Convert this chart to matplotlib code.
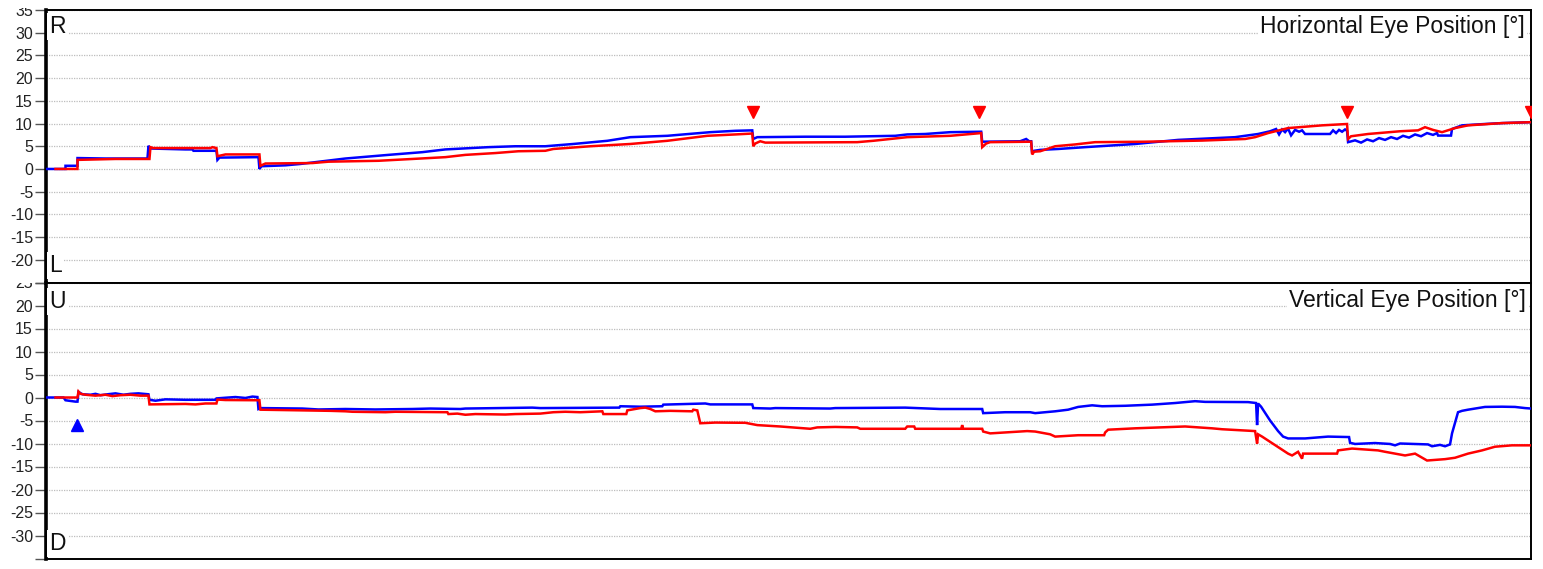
import matplotlib
matplotlib.use("Agg")
import matplotlib.pyplot as plt
from matplotlib.transforms import Bbox, TransformedBbox

plt.rcParams['font.family'] = ['Liberation Sans', 'DejaVu Sans']

# ---------------- data (time in samples, position in degrees) ----------------
h_blue_t = [0, 20, 20, 32, 32, 60, 102, 103, 105, 140, 147, 148, 171, 172, 174, 213, 214, 216, 240, 255,
            300, 343, 377, 400, 443, 470, 500, 528, 562, 585, 622, 665, 690, 707, 708, 712, 760, 800, 850,
            862, 880, 905, 936, 937, 975, 981, 984, 986, 987, 989, 995, 1013, 1040, 1090, 1133, 1190, 1213,
            1225, 1231, 1234, 1237, 1240, 1243, 1246, 1250, 1254, 1257, 1260, 1285, 1288, 1291, 1294, 1297,
            1300, 1302, 1303, 1310, 1316, 1322, 1328, 1334, 1340, 1346, 1352, 1358, 1364, 1370, 1376, 1382,
            1388, 1392, 1393, 1406, 1407, 1417, 1440, 1457, 1486]
h_blue_v = [0, 0, 0.7, 0.7, 2.4, 2.3, 2.3, 5.1, 4.5, 4.3, 4.3, 4.0, 4.0, 2.0, 2.5, 2.6, 0.0, 0.6, 0.8, 1.1,
            2.3, 3.1, 3.7, 4.3, 4.8, 5.0, 5.0, 5.5, 6.2, 7.0, 7.3, 8.1, 8.4, 8.5, 6.6, 7.0, 7.1, 7.1, 7.3,
            7.6, 7.7, 8.1, 8.2, 6.0, 6.1, 6.6, 6.1, 6.1, 3.4, 4.0, 4.2, 4.4, 4.8, 5.5, 6.4, 7.0, 7.7,
            8.3, 8.8, 7.6, 8.7, 8.1, 8.9, 7.4, 8.6, 8.2, 8.5, 7.7, 7.7, 8.5, 7.9, 8.6, 8.2,
            8.7, 8.4, 5.9, 6.3, 5.8, 6.5, 6.1, 6.8, 6.4, 7.0, 6.6, 7.3, 6.9, 7.6, 7.2, 7.9,
            7.5, 7.9, 7.35, 7.35, 8.8, 9.6, 9.9, 10.1, 10.3]

h_red_t = [10, 32, 32, 70, 104, 105, 108, 165, 167, 171, 172, 180, 214, 215, 220, 267, 283, 333, 367, 400,
           420, 450, 473, 500, 508, 545, 585, 622, 662, 690, 707, 708, 710, 715, 720, 812, 828, 862, 905,
           936, 937, 941, 945, 986, 987, 989, 995, 1002, 1010, 1030, 1050, 1100, 1157, 1200, 1210, 1223,
           1243, 1277, 1302, 1303, 1306, 1323, 1355, 1373, 1380, 1388, 1397, 1410, 1423, 1457, 1486]
h_red_v = [0, 0, 2.0, 2.2, 2.2, 4.8, 4.6, 4.6, 4.8, 4.6, 2.8, 3.2, 3.2, 0.7, 1.2, 1.3, 1.6, 1.8, 2.2, 2.6,
           3.1, 3.5, 3.9, 4.0, 4.4, 5.0, 5.5, 6.2, 7.3, 7.6, 7.8, 5.0, 5.6, 6.1, 5.8, 5.9, 6.2, 7.0, 7.3,
           7.9, 4.8, 5.6, 5.9, 6.0, 3.2, 3.8, 3.9, 4.4, 5.0, 5.4, 5.9, 6.0, 6.25, 6.6, 7.0, 7.9,
           9.0, 9.6, 9.9, 6.6, 7.2, 7.7, 8.3, 8.5, 9.2, 8.6, 8.1, 9.0, 9.6, 10.1, 10.3]

v_blue_t = [0, 18, 20, 30, 32, 33, 37, 45, 50, 55, 62, 70, 78, 85, 93, 103, 104, 110, 120, 140, 170, 171,
            180, 190, 200, 207, 212, 213, 215, 257, 273, 300, 330, 367, 385, 415, 420, 487, 495, 574, 575,
            595, 617, 618, 660, 665, 707, 708, 725, 730, 785, 790, 860, 895, 910, 937, 938, 960, 985, 990,
            1010, 1023, 1033, 1047, 1057, 1080, 1107, 1130, 1150, 1160, 1203, 1211, 1212, 1213, 1216,
            1225, 1233, 1238, 1243, 1260, 1283, 1304, 1305, 1310, 1330, 1345, 1350, 1355, 1383, 1387,
            1395, 1400, 1405, 1407, 1413, 1417, 1423, 1440, 1457, 1470, 1480, 1486]
v_blue_v = [0, 0, -0.6, -0.9, -0.9, 1.2, 0.7, 0.6, 0.8, 0.5, 0.7, 0.9, 0.6, 0.8, 0.9, 0.7, -0.5, -0.7,
            -0.4, -0.5, -0.5, -0.2, -0.05, 0.1, -0.1, 0.2, 0.1, -2.5, -2.3, -2.4, -2.6, -2.5, -2.6, -2.5,
            -2.4, -2.5, -2.4, -2.2, -2.3, -2.2, -1.9, -2.0, -1.9, -1.55, -1.3, -1.5, -1.5, -2.3, -2.4,
            -2.3, -2.4, -2.3, -2.2, -2.5, -2.5, -2.5, -3.4, -3.2, -3.2, -3.4, -3.0, -2.65, -2.05, -1.7,
            -1.9, -1.8, -1.55, -1.2, -0.8, -0.95, -1.0, -1.2, -6.0, -1.3, -2.0, -5.0, -7.3, -8.5, -8.9,
            -8.9, -8.5, -8.6, -9.85, -10.1, -9.9, -10.1, -10.4, -10.0, -10.2, -10.6, -10.3, -10.6,
            -10.2, -7.8, -3.2, -2.9, -2.65, -2.05, -2.0, -2.05, -2.3, -2.4]

v_red_t = [10, 32, 33, 35, 40, 50, 60, 67, 75, 85, 95, 103, 104, 140, 150, 160, 171, 172, 180, 214, 215,
           257, 285, 300, 307, 340, 350, 402, 403, 412, 420, 430, 460, 470, 495, 508, 520, 535, 557, 558,
           581, 582, 595, 600, 605, 610, 625, 647, 648, 652, 655, 670, 700, 712, 735, 765, 772, 790, 812,
           815, 860, 862, 869, 870, 916, 917, 918, 937, 938, 945, 982, 990, 1005, 1010, 1033, 1059,
           1060, 1063, 1090, 1140, 1167, 1177, 1210, 1212, 1213, 1217, 1243, 1247, 1253, 1257, 1258,
           1292, 1293, 1307, 1333, 1340, 1360, 1370, 1382, 1400, 1410, 1423, 1437, 1450, 1467, 1486]
v_red_v = [0, 0, 1.3, 0.8, 0.6, 0.4, 0.6, 0.3, 0.5, 0.6, 0.4, 0.4, -1.5, -1.4, -1.5, -1.3, -1.3, -0.45,
           -0.55, -0.6, -2.65, -2.8, -2.9, -3.0, -3.1, -3.2, -3.1, -3.2, -3.6, -3.5, -3.75, -3.6, -3.7,
           -3.6, -3.5, -3.2, -3.1, -3.2, -3.0, -3.6, -3.6, -2.8, -2.3, -2.2, -2.5, -3.0, -2.9, -3.0,
           -2.65, -2.8, -5.6, -5.45, -5.5, -6.0, -6.3, -6.8, -6.5, -6.4, -6.5, -6.8, -6.8, -6.3, -6.3,
           -6.8, -6.8, -6.0, -6.8, -6.8, -7.4, -7.8, -7.3, -7.4, -8.0, -8.5, -8.2, -8.2, -7.6, -7.0,
           -6.7, -6.3, -6.7, -6.9, -7.3, -10.0, -8.0, -8.5, -12.2, -12.6, -11.8, -13.3, -12.2, -12.2,
           -11.5, -11.1, -11.5, -11.8, -12.6, -12.2, -13.7, -13.4, -13.1, -12.2, -11.5, -10.7, -10.4,
           -10.4]

h_marker_t = [708, 934, 1302, 1486]
h_marker_v = [12.5, 12.5, 12.5, 12.5]
v_marker_t = [32]
v_marker_v = [-6.0]

h_ticks = [-25, -20, -15, -10, -5, 0, 5, 10, 15, 20, 25, 30, 35]
h_ticklabels = ['', '-20', '-15', '-10', '-5', '0', '5', '10', '15', '20', '25', '30', '35']
v_ticks = [-35, -30, -25, -20, -15, -10, -5, 0, 5, 10, 15, 20, 25]
v_ticklabels = ['', '-30', '-25', '-20', '-15', '-10', '-5', '0', '5', '10', '15', '20', '25']

# ---------------- figure ----------------
W, H = 1543, 569
fig = plt.figure(figsize=(W / 100, H / 100), dpi=100)
fig.patch.set_facecolor('white')

left = 45.5 / W
right = 1531 / W
top_t = 1 - 10 / H
mid = 1 - 282.5 / H
bot = 1 - 558.5 / H

ax1 = fig.add_axes([left, mid, right - left, top_t - mid])
ax2 = fig.add_axes([left, bot, right - left, mid - bot])

BLUE = '#0000FF'
RED = '#FF0000'

for ax, bt, bv, rt, rv, ylim, ticks, labels in [
        (ax1, h_blue_t, h_blue_v, h_red_t, h_red_v, (-25, 35), h_ticks, h_ticklabels),
        (ax2, v_blue_t, v_blue_v, v_red_t, v_red_v, (-35, 25), v_ticks, v_ticklabels)]:
    ax.plot(bt, bv, color=BLUE, lw=1.8, solid_joinstyle='miter', zorder=3)
    ax.plot(rt, rv, color=RED, lw=1.8, solid_joinstyle='miter', zorder=4)
    ax.set_xlim(0, 1486)
    ax.set_ylim(*ylim)
    ax.set_yticks(ticks)
    ax.set_yticklabels(labels)
    ax.set_xticks([])
    ax.tick_params(axis='y', length=8, width=1.0, color='#555555', pad=1,
                   labelsize=11.5, labelcolor='#222222')
    ax.grid(axis='y', color='#bdbdbd', linestyle=(0, (1, 1)), linewidth=0.9, zorder=1)
    ax.set_axisbelow(True)
    for s in ['top', 'right', 'bottom']:
        ax.spines[s].set_linewidth(1.4)
        ax.spines[s].set_color('black')
    ax.spines['left'].set_linewidth(2.6)
    ax.spines['left'].set_color('black')

ax1.plot(h_marker_t, h_marker_v, linestyle='none', marker='v', color=RED, markersize=8, zorder=5)
ax2.plot(v_marker_t, v_marker_v, linestyle='none', marker='^', color=BLUE, markersize=8, zorder=5)

box = dict(facecolor='white', edgecolor='none', pad=1.5)
fs = 16.5
fig.text(1525 / W, 1 - 32.5 / H, 'Horizontal Eye Position [°]', ha='right', va='baseline',
         fontsize=fs, color='#111111', bbox=box, zorder=10)
fig.text(1526 / W, 1 - 307 / H, 'Vertical Eye Position [°]', ha='right', va='baseline',
         fontsize=fs, color='#111111', bbox=box, zorder=10)
for s, yb in [('R', 33), ('L', 272), ('U', 308), ('D', 550)]:
    fig.text(49.5 / W, 1 - yb / H, s, ha='left', va='baseline', fontsize=fs,
             color='#111111', bbox=box, zorder=10)

# clip tick labels to their panel, as in the source widget
fig.canvas.draw()
clip1 = TransformedBbox(Bbox([[0, mid], [1, 1 - 8 / H]]), fig.transFigure)
clip2 = TransformedBbox(Bbox([[0, 0], [1, mid]]), fig.transFigure)
for lab in ax1.get_yticklabels():
    lab.set_clip_box(clip1)
    lab.set_clip_on(True)
for lab in ax2.get_yticklabels():
    lab.set_clip_box(clip2)
    lab.set_clip_on(True)

fig.savefig('out.png', dpi=100, facecolor='white')
